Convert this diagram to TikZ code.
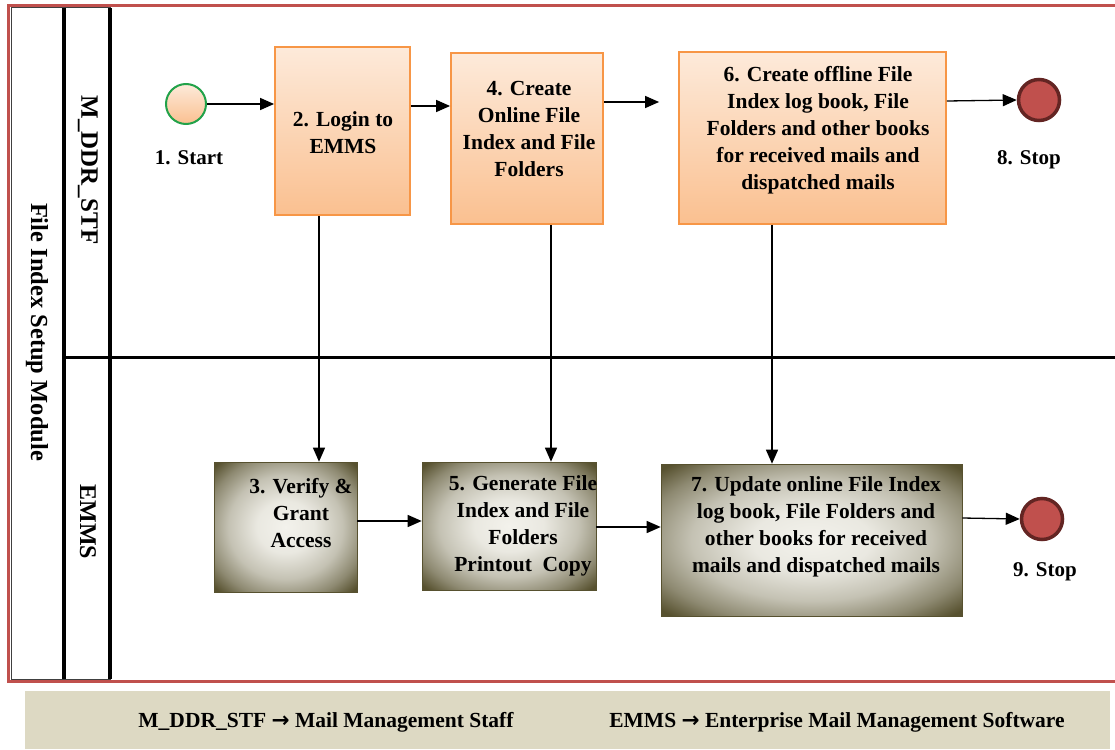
\documentclass[tikz,border=0pt]{standalone}
\usepackage{fontspec}
\setmainfont{Liberation Serif}
\newfontfamily\symfont{DejaVu Sans}
\usetikzlibrary{arrows.meta,calc}
\definecolor{frame}{HTML}{C0504D}
\definecolor{otop}{HTML}{FDEADA}
\definecolor{obot}{HTML}{FAC090}
\definecolor{oborder}{HTML}{F79646}
\definecolor{startgreen}{HTML}{22A24A}
\definecolor{stopfill}{HTML}{C0504D}
\definecolor{stopborder}{HTML}{632523}
\definecolor{olivedark}{HTML}{57512F}
\definecolor{olivelight}{HTML}{F3F2EC}
\definecolor{legendbg}{HTML}{DDD9C3}
\pgfdeclareradialshading{bevel}{\pgfpoint{0bp}{0bp}}{%
  color(0bp)=(olivelight);
  color(10bp)=(olivelight!94!olivedark);
  color(20bp)=(olivelight!70!olivedark);
  color(28bp)=(olivelight!35!olivedark);
  color(34bp)=(olivedark);
  color(50bp)=(olivedark)}
\tikzset{
  x=1pt, y=-1pt,
  boxfont/.style={font=\fontsize{21.5}{27}\selectfont\bfseries, align=center},
  obox/.style={draw=oborder, line width=1.8pt, top color=otop, bottom color=obot, inner sep=0pt},
  dbox/.style={draw=olivedark, line width=0.6pt, shading=bevel, inner sep=0pt},
  startev/.style={circle, draw=startgreen, line width=2pt, top color=otop, bottom color=obot, minimum size=40pt, inner sep=0pt},
  stopev/.style={circle, draw=stopborder, line width=3.5pt, fill=stopfill, minimum size=41pt, inner sep=0pt},
  evlabel/.style={font=\fontsize{21}{25}\selectfont\bfseries},
  flow/.style={line width=1.3pt, -{Triangle[length=14pt,width=12pt]}},
  lanelabel/.style={font=\fontsize{25}{29}\selectfont\bfseries, rotate=-90},
  legendtext/.style={font=\fontsize{21.5}{25}\selectfont\bfseries},
}
\begin{document}
\begin{tikzpicture}
\useasboundingbox (0,0) rectangle (1115,749);
% pool frame
\draw[frame, line width=3pt] (1115,6) -- (8,6) -- (8,681) -- (1115,681);
\draw[black!75, line width=1pt] (11,8) rectangle (110,679);
\draw[black, line width=4pt] (64,8) -- (64,679);
\draw[black, line width=4pt] (110,8) -- (110,679);
\draw[black, line width=3pt] (64,357) -- (1115,357);
% labels of pool and lanes
\node[lanelabel, font=\fontsize{24.5}{28}\selectfont\bfseries] (pool) at (37,332) {File Index Setup Module};
\node[lanelabel] (lane1) at (88,170) {M\_DDR\_STF};
\node[lanelabel, font=\fontsize{24}{28}\selectfont\bfseries] (lane2) at (88,522) {EMMS};
% events
\node[startev] (start) at (186,104) {};
\node[evlabel] (startl) at (189,158) {1. Start};
\node[stopev] (stop8) at (1039,100) {};
\node[evlabel] (stop8l) at (1029,160) {8. Stop};
\node[stopev] (stop9) at (1042,519) {};
\node[evlabel] (stop9l) at (1045,572) {9. Stop};
% upper lane tasks
\node[obox, minimum width=135pt, minimum height=168pt] (b2) at (342.5,131) {};
\node[boxfont] (t2) at (343,133) {2. Login to\\ EMMS};
\node[obox, minimum width=152pt, minimum height=171pt] (b4) at (527,138.5) {};
\node[boxfont] (t4) at (529,129) {4. Create\\Online File\\Index and File\\Folders};
\node[obox, minimum width=267pt, minimum height=172pt] (b6) at (812.5,138) {};
\node[boxfont] (t6) at (818,130) {6. Create offline File\\Index log book, File\\Folders and other books\\for received mails and\\dispatched mails};
% lower lane tasks
\node[dbox, minimum width=143pt, minimum height=130pt] (b3) at (285.5,527) {};
\node[boxfont] (t3) at (301,513) {3. Verify \&\\Grant\\Access};
\node[dbox, minimum width=174pt, minimum height=128pt] (b5) at (509,526) {};
\node[boxfont] (t5) at (523,526) {5. Generate File\\Index and File\\Folders\\Printout\ \ Copy};
\node[dbox, minimum width=301pt, minimum height=152pt] (b7) at (811.5,540) {};
\node[boxfont] (t7) at (816,527) {7. Update online File Index\\log book, File Folders and\\other books for received\\mails and dispatched mails};
% flows
\draw[flow] (start.east) -- (b2.west |- start.east);
\draw[flow] (b2.east |- 0,106) -- (b4.west |- 0,106);
\draw[flow, shorten >=19pt] (b4.east |- 0,102) -- (b6.west |- 0,102);
\draw[flow] (b6.east |- 0,101) -- (stop8.west);
\draw[flow] (b2.south -| 319,0) -- (b3.north -| 319,0);
\draw[flow] (b4.south -| 551,0) -- (b5.north -| 551,0);
\draw[flow] (b6.south -| 772,0) -- (b7.north -| 772,0);
\draw[flow] (b3.east |- 0,521) -- (b5.west |- 0,521);
\draw[flow] (b5.east |- 0,527) -- (b7.west |- 0,527);
\draw[flow] (b7.east |- 0,518) -- (stop9.west);
% legend
\node[fill=legendbg, minimum width=1085pt, minimum height=58pt, inner sep=0pt] (legend) at (567.5,720) {};
\node[legendtext] (leg1) at (326,722) {M\_DDR\_STF {\symfont\bfseries\char"2192} Mail Management Staff};
\node[legendtext] (leg2) at (837,722) {EMMS {\symfont\bfseries\char"2192} Enterprise Mail Management Software};
\end{tikzpicture}
\end{document}
